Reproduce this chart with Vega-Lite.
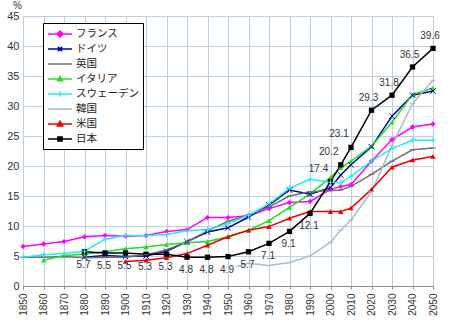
{
  "$schema": "https://vega.github.io/schema/vega-lite/v6.json",
  "width": 410,
  "height": 270,
  "autosize": "none",
  "padding": {"left": 23, "top": 16, "right": 22, "bottom": 42},
  "background": "white",
  "config": {
    "view": {"stroke": "#8c8c8c", "strokeWidth": 1},
    "font": "Liberation Sans",
    "axis": {"gridColor": "#bcd0e4", "gridWidth": 1, "domainColor": "#8c8c8c", "tickColor": "#8c8c8c", "labelColor": "#333333"}
  },
  "resolve": {"scale": {"shape": "independent"}},
  "datasets": {
    "series": [
      {"country": "フランス", "year": 1850, "value": 6.6},
      {"country": "フランス", "year": 1860, "value": 7.0},
      {"country": "フランス", "year": 1870, "value": 7.4},
      {"country": "フランス", "year": 1880, "value": 8.2},
      {"country": "フランス", "year": 1890, "value": 8.4},
      {"country": "フランス", "year": 1900, "value": 8.3},
      {"country": "フランス", "year": 1910, "value": 8.4},
      {"country": "フランス", "year": 1920, "value": 9.1},
      {"country": "フランス", "year": 1930, "value": 9.4},
      {"country": "フランス", "year": 1940, "value": 11.4},
      {"country": "フランス", "year": 1950, "value": 11.4},
      {"country": "フランス", "year": 1960, "value": 11.7},
      {"country": "フランス", "year": 1970, "value": 12.9},
      {"country": "フランス", "year": 1980, "value": 13.9},
      {"country": "フランス", "year": 1990, "value": 14.1},
      {"country": "フランス", "year": 2000, "value": 16.1},
      {"country": "フランス", "year": 2005, "value": 16.6},
      {"country": "フランス", "year": 2010, "value": 16.9},
      {"country": "フランス", "year": 2020, "value": 20.8},
      {"country": "フランス", "year": 2030, "value": 24.4},
      {"country": "フランス", "year": 2040, "value": 26.5},
      {"country": "フランス", "year": 2050, "value": 27.0},
      {"country": "ドイツ", "year": 1880, "value": 4.8},
      {"country": "ドイツ", "year": 1890, "value": 5.1},
      {"country": "ドイツ", "year": 1900, "value": 4.9},
      {"country": "ドイツ", "year": 1910, "value": 5.0},
      {"country": "ドイツ", "year": 1920, "value": 5.8},
      {"country": "ドイツ", "year": 1930, "value": 7.4},
      {"country": "ドイツ", "year": 1940, "value": 9.0},
      {"country": "ドイツ", "year": 1950, "value": 9.7},
      {"country": "ドイツ", "year": 1960, "value": 11.5},
      {"country": "ドイツ", "year": 1970, "value": 13.5},
      {"country": "ドイツ", "year": 1980, "value": 16.0},
      {"country": "ドイツ", "year": 1990, "value": 15.3},
      {"country": "ドイツ", "year": 2000, "value": 16.4},
      {"country": "ドイツ", "year": 2005, "value": 18.5},
      {"country": "ドイツ", "year": 2010, "value": 20.2},
      {"country": "ドイツ", "year": 2020, "value": 23.2},
      {"country": "ドイツ", "year": 2030, "value": 28.3},
      {"country": "ドイツ", "year": 2040, "value": 31.8},
      {"country": "ドイツ", "year": 2050, "value": 32.5},
      {"country": "英国", "year": 1850, "value": 4.8},
      {"country": "英国", "year": 1860, "value": 4.8},
      {"country": "英国", "year": 1870, "value": 4.9},
      {"country": "英国", "year": 1880, "value": 4.7},
      {"country": "英国", "year": 1890, "value": 4.8},
      {"country": "英国", "year": 1900, "value": 4.8},
      {"country": "英国", "year": 1910, "value": 5.2},
      {"country": "英国", "year": 1920, "value": 6.0},
      {"country": "英国", "year": 1930, "value": 7.4},
      {"country": "英国", "year": 1940, "value": 9.2},
      {"country": "英国", "year": 1950, "value": 10.8},
      {"country": "英国", "year": 1960, "value": 11.8},
      {"country": "英国", "year": 1970, "value": 13.2},
      {"country": "英国", "year": 1980, "value": 15.0},
      {"country": "英国", "year": 1990, "value": 15.7},
      {"country": "英国", "year": 2000, "value": 15.9},
      {"country": "英国", "year": 2005, "value": 16.0},
      {"country": "英国", "year": 2010, "value": 16.6},
      {"country": "英国", "year": 2020, "value": 18.6},
      {"country": "英国", "year": 2030, "value": 20.8},
      {"country": "英国", "year": 2040, "value": 22.7},
      {"country": "英国", "year": 2050, "value": 23.0},
      {"country": "イタリア", "year": 1860, "value": 4.3},
      {"country": "イタリア", "year": 1870, "value": 5.1},
      {"country": "イタリア", "year": 1880, "value": 5.3},
      {"country": "イタリア", "year": 1890, "value": 5.7},
      {"country": "イタリア", "year": 1900, "value": 6.2},
      {"country": "イタリア", "year": 1910, "value": 6.5},
      {"country": "イタリア", "year": 1920, "value": 6.9},
      {"country": "イタリア", "year": 1930, "value": 7.2},
      {"country": "イタリア", "year": 1940, "value": 7.4},
      {"country": "イタリア", "year": 1950, "value": 8.2},
      {"country": "イタリア", "year": 1960, "value": 9.3},
      {"country": "イタリア", "year": 1970, "value": 10.9},
      {"country": "イタリア", "year": 1980, "value": 13.1},
      {"country": "イタリア", "year": 1990, "value": 15.3},
      {"country": "イタリア", "year": 2000, "value": 18.1},
      {"country": "イタリア", "year": 2005, "value": 19.7},
      {"country": "イタリア", "year": 2010, "value": 20.8},
      {"country": "イタリア", "year": 2020, "value": 23.3},
      {"country": "イタリア", "year": 2030, "value": 27.3},
      {"country": "イタリア", "year": 2040, "value": 31.9},
      {"country": "イタリア", "year": 2050, "value": 33.0},
      {"country": "スウェーデン", "year": 1850, "value": 4.8},
      {"country": "スウェーデン", "year": 1860, "value": 5.2},
      {"country": "スウェーデン", "year": 1870, "value": 5.4},
      {"country": "スウェーデン", "year": 1880, "value": 5.8},
      {"country": "スウェーデン", "year": 1890, "value": 7.8},
      {"country": "スウェーデン", "year": 1900, "value": 8.4},
      {"country": "スウェーデン", "year": 1910, "value": 8.4},
      {"country": "スウェーデン", "year": 1920, "value": 8.6},
      {"country": "スウェーデン", "year": 1930, "value": 9.2},
      {"country": "スウェーデン", "year": 1940, "value": 9.4},
      {"country": "スウェーデン", "year": 1950, "value": 10.4},
      {"country": "スウェーデン", "year": 1960, "value": 11.8},
      {"country": "スウェーデン", "year": 1970, "value": 13.7},
      {"country": "スウェーデン", "year": 1980, "value": 16.3},
      {"country": "スウェーデン", "year": 1990, "value": 17.8},
      {"country": "スウェーデン", "year": 2000, "value": 17.3},
      {"country": "スウェーデン", "year": 2005, "value": 17.2},
      {"country": "スウェーデン", "year": 2010, "value": 18.3},
      {"country": "スウェーデン", "year": 2020, "value": 20.8},
      {"country": "スウェーデン", "year": 2030, "value": 22.9},
      {"country": "スウェーデン", "year": 2040, "value": 24.3},
      {"country": "スウェーデン", "year": 2050, "value": 24.3},
      {"country": "韓国", "year": 1955, "value": 3.3},
      {"country": "韓国", "year": 1960, "value": 3.8},
      {"country": "韓国", "year": 1970, "value": 3.4},
      {"country": "韓国", "year": 1980, "value": 3.9},
      {"country": "韓国", "year": 1990, "value": 5.0},
      {"country": "韓国", "year": 2000, "value": 7.3},
      {"country": "韓国", "year": 2005, "value": 9.3},
      {"country": "韓国", "year": 2010, "value": 11.0},
      {"country": "韓国", "year": 2020, "value": 15.7},
      {"country": "韓国", "year": 2030, "value": 23.4},
      {"country": "韓国", "year": 2040, "value": 30.4},
      {"country": "韓国", "year": 2050, "value": 34.3},
      {"country": "米国", "year": 1900, "value": 4.1},
      {"country": "米国", "year": 1910, "value": 4.3},
      {"country": "米国", "year": 1920, "value": 4.7},
      {"country": "米国", "year": 1930, "value": 5.4},
      {"country": "米国", "year": 1940, "value": 6.8},
      {"country": "米国", "year": 1950, "value": 8.2},
      {"country": "米国", "year": 1960, "value": 9.3},
      {"country": "米国", "year": 1970, "value": 9.9},
      {"country": "米国", "year": 1980, "value": 11.3},
      {"country": "米国", "year": 1990, "value": 12.4},
      {"country": "米国", "year": 2000, "value": 12.4},
      {"country": "米国", "year": 2005, "value": 12.4},
      {"country": "米国", "year": 2010, "value": 13.0},
      {"country": "米国", "year": 2020, "value": 16.1},
      {"country": "米国", "year": 2030, "value": 19.8},
      {"country": "米国", "year": 2040, "value": 21.0},
      {"country": "米国", "year": 2050, "value": 21.6},
      {"country": "日本", "year": 1880, "value": 5.7},
      {"country": "日本", "year": 1890, "value": 5.5},
      {"country": "日本", "year": 1900, "value": 5.5},
      {"country": "日本", "year": 1910, "value": 5.3},
      {"country": "日本", "year": 1920, "value": 5.3},
      {"country": "日本", "year": 1930, "value": 4.8},
      {"country": "日本", "year": 1940, "value": 4.8},
      {"country": "日本", "year": 1950, "value": 4.9},
      {"country": "日本", "year": 1960, "value": 5.7},
      {"country": "日本", "year": 1970, "value": 7.1},
      {"country": "日本", "year": 1980, "value": 9.1},
      {"country": "日本", "year": 1990, "value": 12.1},
      {"country": "日本", "year": 2000, "value": 17.4},
      {"country": "日本", "year": 2005, "value": 20.2},
      {"country": "日本", "year": 2010, "value": 23.1},
      {"country": "日本", "year": 2020, "value": 29.3},
      {"country": "日本", "year": 2030, "value": 31.8},
      {"country": "日本", "year": 2040, "value": 36.5},
      {"country": "日本", "year": 2050, "value": 39.6}
    ]
  },
  "data": {"name": "series"},
  "encoding": {
    "x": {
      "field": "year", "type": "quantitative",
      "scale": {"domain": [1850, 2050], "nice": false, "zero": false},
      "axis": {"values": [1850,1860,1870,1880,1890,1900,1910,1920,1930,1940,1950,1960,1970,1980,1990,2000,2010,2020,2030,2040,2050],
               "format": "d", "labelAngle": -90, "labelFontSize": 10, "labelPadding": 4, "tickSize": 3, "title": null, "grid": true}
    },
    "y": {
      "field": "value", "type": "quantitative",
      "scale": {"domain": [0, 45], "nice": false},
      "axis": {"values": [0,5,10,15,20,25,30,35,40,45], "labelFontSize": 11, "tickSize": 0, "labelPadding": 4, "domain": false,
               "title": "%", "titleAngle": 0, "titleX": -6, "titleY": -6, "titleAlign": "center", "titleFontSize": 10, "titleFontWeight": "normal", "titleColor": "#333333"}
    }
  },
  "layer": [
    {
      "mark": {"type": "line", "strokeWidth": 1.5},
      "encoding": {
        "color": {
          "field": "country", "type": "nominal",
          "scale": {
            "domain": ["フランス", "ドイツ", "英国", "イタリア", "スウェーデン", "韓国", "米国", "日本"],
            "range": ["#ff00ff", "#0000a0", "#707070", "#22dd22", "#22eeee", "#a8bcd4", "#ee0000", "#000000"]
          },
          "legend": {
            "title": null, "orient": "none", "legendX": 20, "legendY": 7,
            "direction": "vertical",
            "fillColor": "white", "strokeColor": "#000000", "padding": 4,
            "labelFont": "Noto Sans CJK JP", "labelFontSize": 10.5, "labelColor": "#222222",
            "symbolSize": 144, "symbolStrokeWidth": 1.5, "rowPadding": 2, "labelOffset": 15,
            "encode": {
              "symbols": {
                "update": {
                  "shape": {"signal": "datum.value === 'フランス' ? 'M-1,0H3M1,-0.5L1.5,0L1,0.5L0.5,0Z' : datum.value === 'ドイツ' ? 'M-1,0H3M0.65,-0.35L1.35,0.35M0.65,0.35L1.35,-0.35' : datum.value === 'イタリア' ? 'M-1,0H3M1,-0.4L1.4,0.3L0.6,0.3Z' : datum.value === 'スウェーデン' ? 'M-1,0H3M1,-0.4V0.4' : datum.value === '米国' ? 'M-1,0H3M1,-0.45L1.45,0.35L0.55,0.35Z' : datum.value === '日本' ? 'M-1,0H3M0.65,-0.35H1.35V0.35H0.65Z' : 'M-1,0H3'"},
                  "fill": {"signal": "scale('color', datum.value)"},
                  "stroke": {"signal": "scale('color', datum.value)"},
                  "fillOpacity": {"value": 1},
                  "strokeOpacity": {"value": 1}
                }
              }
            }
          }
        }
      }
    },
    {
      "transform": [{"filter": "indexof(['フランス','イタリア','米国','日本'], datum.country) >= 0"}],
      "mark": {"type": "point", "filled": true, "opacity": 1},
      "encoding": {
        "color": {"field": "country", "type": "nominal", "legend": null},
        "shape": {
          "field": "country", "type": "nominal", "legend": null,
          "scale": {"domain": ["フランス", "イタリア", "米国", "日本"], "range": ["diamond", "triangle-up", "triangle-up", "square"]}
        },
        "size": {"value": 28}
      }
    },
    {
      "transform": [{"filter": "indexof(['ドイツ','英国','スウェーデン','韓国'], datum.country) >= 0"}],
      "mark": {"type": "point", "filled": false, "opacity": 1, "strokeWidth": 1},
      "encoding": {
        "color": {"field": "country", "type": "nominal", "legend": null},
        "shape": {
          "field": "country", "type": "nominal", "legend": null,
          "scale": {"domain": ["ドイツ", "英国", "スウェーデン", "韓国"], "range": ["M-1,-1L1,1M-1,1L1,-1", "M-1,0H1", "M-1,0H1M0,-1V1", "M-1,0H1"]}
        },
        "size": {"value": 30}
      }
    },
    {
      "transform": [{"filter": "datum.country === '日本' && datum.year <= 1990"}],
      "mark": {"type": "text", "dy": 13, "dx": -1, "fontSize": 10, "color": "#333333"},
      "encoding": {"text": {"field": "value", "type": "quantitative", "format": ".1f"}}
    },
    {
      "transform": [{"filter": "datum.country === '日本' && datum.year >= 2000 && datum.year <= 2010"}],
      "mark": {"type": "text", "dy": -13, "dx": -12, "fontSize": 10, "color": "#333333"},
      "encoding": {"text": {"field": "value", "type": "quantitative", "format": ".1f"}}
    },
    {
      "transform": [{"filter": "datum.country === '日本' && datum.year >= 2020"}],
      "mark": {"type": "text", "dy": -12, "dx": -3, "fontSize": 10, "color": "#333333"},
      "encoding": {"text": {"field": "value", "type": "quantitative", "format": ".1f"}}
    }
  ]
}
